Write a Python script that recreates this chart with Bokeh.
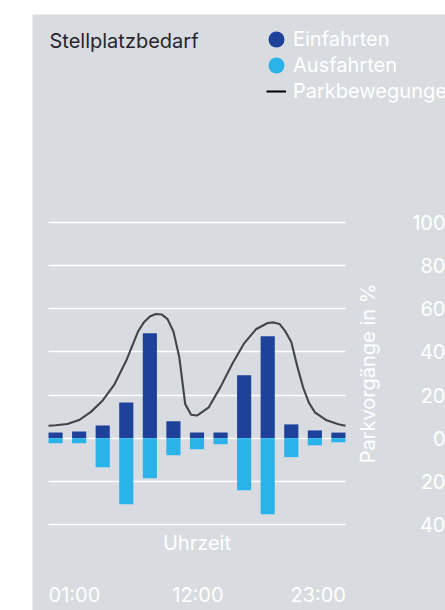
import math
from bokeh.plotting import figure
from bokeh.models import (ColumnDataSource, Range1d, LinearAxis, FixedTicker, Grid,
                          Legend, LegendItem, Label)
from bokeh.embed import file_html
from bokeh.resources import INLINE

# ---- data ----
slots = list(range(13))
einfahrten = [2.6, 3.1, 5.9, 16.6, 48.7, 7.8, 2.6, 2.6, 29.2, 47.3, 6.4, 3.6, 2.6]
ausfahrten = [2.3, 2.3, 13.5, 30.7, 18.6, 7.9, 5.1, 2.8, 24.2, 35.3, 8.8, 3.3, 1.9]
ausfahrten_neg = [-v for v in ausfahrten]

curve_x = [-0.3, 0, 0.5, 1, 1.5, 2, 2.5, 3, 3.5, 3.75, 4, 4.25, 4.5, 4.75, 5, 5.25,
           5.5, 5.75, 6, 6.5, 7, 7.5, 8, 8.5, 9, 9.25, 9.5, 9.75, 10, 10.25, 10.5,
           10.75, 11, 11.5, 12, 12.3]
curve_y = [5.8, 6.0, 6.6, 8.4, 12.2, 17.5, 25, 36, 49.5, 53.8, 56.4, 57.6, 57.4, 55.2,
           49.5, 37.5, 15.8, 10.9, 10.5, 14.3, 23.8, 34.5, 44, 50.5, 53.4, 53.7, 53,
           49.5, 44.6, 33.5, 23.6, 16.4, 12, 8.3, 6.5, 5.8]

y_ticks = [-40, -20, 0, 20, 40, 60, 80, 100]
y_tick_labels = ["40", "20", "0", "20", "40", "60", "80", "100"]
x_tick_pos = [0.8, 6.04, 11.14]
x_tick_labels = ["01:00", "12:00", "23:00"]

BG = "#d8dce0"
DARK = "#1e4199"
LIGHT = "#2ab3e8"
LINE = "#46424d"
FONT = "Inter"

# ---- layout geometry (pixels inside the 413x596 figure) ----
W, H = 413, 596
PLOT_L, PLOT_R = 16, 313          # bar area left/right
PLOT_T, PLOT_B = 207, 511         # bar area top/bottom
X0, X1 = -0.3, 12.3
Y0, Y1 = -40.5, 100.5
kx = (PLOT_R - PLOT_L) / (X1 - X0)
ky = (PLOT_B - PLOT_T) / (Y1 - Y0)
x_range = Range1d(X0 - PLOT_L / kx, X1 + (W - PLOT_R) / kx)
y_range = Range1d(Y0 - (H - PLOT_B) / ky, Y1 + PLOT_T / ky)


def px_to_x(px):
    return x_range.start + px / kx


p = figure(width=W, height=H, output_backend="svg", toolbar_location=None,
           x_range=x_range, y_range=y_range,
           x_axis_location=None, y_axis_location=None, min_border=0,
           background_fill_color=BG, border_fill_color=BG, outline_line_color=None,
           margin=(14, 0, 0, 32))
p.xgrid.visible = False
p.ygrid.visible = False

p.add_layout(Grid(dimension=1, ticker=FixedTicker(ticks=y_ticks), cross_bounds=(X0, X1),
                  grid_line_color="white", grid_line_width=1.3))

src = ColumnDataSource(data=dict(x=slots, ein=einfahrten, aus=ausfahrten_neg))
p.vbar(x="x", top="ein", bottom=0, width=0.6, source=src, fill_color=DARK, line_color=None)
p.vbar(x="x", top=0, bottom="aus", width=0.6, source=src, fill_color=LIGHT, line_color=None)
p.line(curve_x, curve_y, line_color=LINE, line_width=2.1, line_join="round")


def text_axis(**kw):
    base = dict(axis_line_color=None, major_tick_line_color=None, minor_tick_line_color=None,
                major_tick_out=0, major_tick_in=0, minor_tick_out=0, minor_tick_in=0,
                axis_label_text_font=FONT, axis_label_text_font_size="20px",
                axis_label_text_color="white", axis_label_text_font_style="normal",
                major_label_text_font=FONT, major_label_text_font_size="20px",
                major_label_text_color="white")
    base.update(kw)
    return LinearAxis(**base)


# y tick labels: right-aligned at the right edge
ax_y = text_axis(ticker=FixedTicker(ticks=y_ticks), bounds=(Y0, Y1),
                 major_label_overrides=dict(zip(y_ticks, y_tick_labels)),
                 major_label_standoff=0, fixed_location=px_to_x(W))
p.add_layout(ax_y, "left")
# y axis title between the bars and the tick labels
ax_ylab = text_axis(ticker=FixedTicker(ticks=[]), axis_label="Parkvorgänge in %",
                    axis_label_standoff=0, bounds=(Y0, Y1), fixed_location=px_to_x(347))
p.add_layout(ax_ylab, "left")

ax_xlab = text_axis(ticker=FixedTicker(ticks=[]), axis_label="Uhrzeit", axis_label_standoff=5,
                    bounds=(X0, X1), fixed_location=Y0)
p.add_layout(ax_xlab, "below")
ax_x = text_axis(ticker=FixedTicker(ticks=x_tick_pos), bounds=(X0, X1),
                 major_label_overrides=dict(zip(x_tick_pos, x_tick_labels)),
                 major_label_standoff=57, fixed_location=Y0)
p.add_layout(ax_x, "below")

nan = float("nan")
leg_src = ColumnDataSource(data=dict(x=[nan], y=[nan]))
r_in = p.ellipse("x", "y", width=16, height=16, width_units="screen", height_units="screen",
                 source=leg_src, fill_color=DARK, line_color=None)
r_out = p.ellipse("x", "y", width=16, height=16, width_units="screen", height_units="screen",
                  source=leg_src, fill_color=LIGHT, line_color=None)
r_mv = p.line("x", "y", source=leg_src, line_color="black", line_width=2)
legend = Legend(items=[LegendItem(label="Einfahrten", renderers=[r_in]),
                       LegendItem(label="Ausfahrten", renderers=[r_out]),
                       LegendItem(label="Parkbewegungen", renderers=[r_mv])],
                location=(234, 507), glyph_width=20, glyph_height=20, label_height=24,
                spacing=2, label_standoff=7, padding=0, margin=0, border_line_color=None,
                background_fill_alpha=0, label_text_color="white",
                label_text_font=FONT, label_text_font_size="20px")
p.add_layout(legend)

p.add_layout(Label(x=17, y=570, x_units="screen", y_units="screen", text="Stellplatzbedarf",
                   text_font=FONT, text_font_size="20px", text_color="#25252f",
                   text_baseline="middle"))

open("out.html", "w").write(file_html(p, INLINE))
